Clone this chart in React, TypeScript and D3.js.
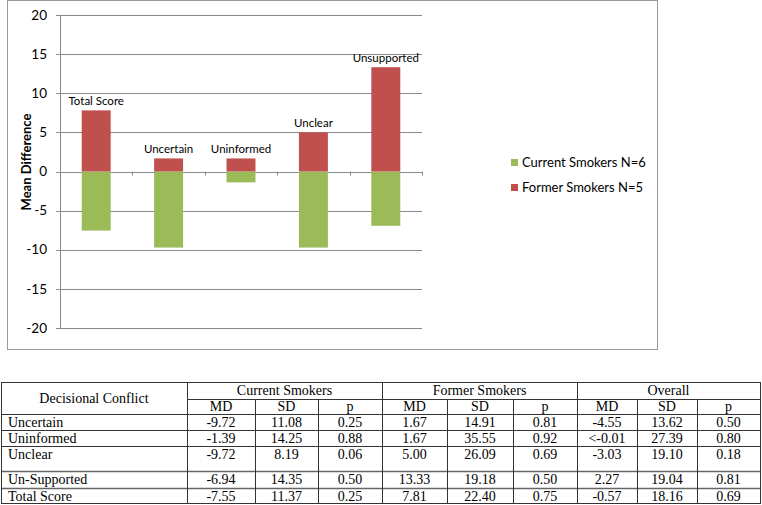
import * as d3 from "d3";
import { useEffect, useRef } from "react";

// chart data
const categories = ["Total Score", "Uncertain", "Uninformed", "Unclear", "Unsupported"];
const currentSmokers = [-7.55, -9.72, -1.39, -9.72, -6.94];
const formerSmokers = [7.81, 1.67, 1.67, 5.0, 13.33];
const seriesNames = ["Current Smokers N=6", "Former Smokers N=5"];
const seriesColors = ["#9bbb59", "#c0504d"];
const yTicks = [-20, -15, -10, -5, 0, 5, 10, 15, 20];

// table data
const rowLabels = ["Uncertain", "Uninformed", "Unclear", "Un-Supported", "Total Score"];
const groupNames = ["Current Smokers", "Former Smokers", "Overall"];
const subHeaders = ["MD", "SD", "p"];
const currentMD = ["-9.72", "-1.39", "-9.72", "-6.94", "-7.55"];
const currentSD = ["11.08", "14.25", "8.19", "14.35", "11.37"];
const currentP = ["0.25", "0.88", "0.06", "0.50", "0.25"];
const formerMD = ["1.67", "1.67", "5.00", "13.33", "7.81"];
const formerSD = ["14.91", "35.55", "26.09", "19.18", "22.40"];
const formerP = ["0.81", "0.92", "0.69", "0.50", "0.75"];
const overallMD = ["-4.55", "<-0.01", "-3.03", "2.27", "-0.57"];
const overallSD = ["13.62", "27.39", "19.10", "19.04", "18.16"];
const overallP = ["0.50", "0.80", "0.18", "0.81", "0.69"];

export default function App() {
  const svgRef = useRef<SVGSVGElement>(null);

  useEffect(() => {
    const svg = d3.select(svgRef.current);
    svg.selectAll("*").remove();

    const sans = "Lato, 'Open Sans', sans-serif";
    const serif = "'Liberation Serif', 'Times New Roman', serif";

    // chart frame
    svg.append("rect")
      .attr("x", 7.5).attr("y", 0.5)
      .attr("width", 650).attr("height", 349)
      .attr("fill", "#fff")
      .attr("stroke", "#9a9a9a");

    const left = 60, right = 422, top = 15, bottom = 328;

    const x = d3.scaleBand<string>()
      .domain(categories)
      .range([left, right])
      .paddingInner(0.6)
      .paddingOuter(0.3);

    const y = d3.scaleLinear().domain([-20, 20]).range([bottom, top]);

    const g = svg.append("g");

    // gridlines
    g.selectAll(".grid")
      .data(yTicks)
      .enter()
      .append("line")
      .attr("x1", left - 4)
      .attr("x2", right)
      .attr("y1", d => Math.round(y(d)) + 0.5)
      .attr("y2", d => Math.round(y(d)) + 0.5)
      .attr("stroke", "#8a8a8a");

    g.selectAll(".ytick")
      .data(yTicks)
      .enter()
      .append("text")
      .attr("x", 47)
      .attr("y", d => y(d))
      .attr("dy", "0.35em")
      .attr("text-anchor", "end")
      .attr("font-family", sans)
      .attr("font-size", 13.5)
      .attr("fill", "#000")
      .text(d => d);

    // y axis line
    g.append("line")
      .attr("x1", left + 0.5).attr("x2", left + 0.5)
      .attr("y1", top).attr("y2", bottom)
      .attr("stroke", "#8a8a8a");

    // category tick marks on the zero line
    const step = x.step();
    const boundaries = d3.range(categories.length + 1).map(i => left + i * step);
    g.selectAll(".xtick")
      .data(boundaries.slice(1))
      .enter()
      .append("line")
      .attr("x1", d => Math.round(d) + 0.5)
      .attr("x2", d => Math.round(d) + 0.5)
      .attr("y1", y(0))
      .attr("y2", y(0) + 4)
      .attr("stroke", "#8a8a8a");

    // bars
    [currentSmokers, formerSmokers].forEach((values, si) => {
      g.selectAll(`.bar-${si}`)
        .data(values)
        .enter()
        .append("rect")
        .attr("x", (d, i) => x(categories[i])!)
        .attr("y", d => y(Math.max(0, d)))
        .attr("width", x.bandwidth())
        .attr("height", d => Math.abs(y(d) - y(0)))
        .attr("fill", seriesColors[si]);
    });

    // category labels over the red bars
    g.selectAll(".clabel")
      .data(categories)
      .enter()
      .append("text")
      .attr("x", d => x(d)! + x.bandwidth() / 2)
      .attr("y", (d, i) => y(formerSmokers[i]) - 5)
      .attr("text-anchor", "middle")
      .attr("font-family", sans)
      .attr("font-size", 11.5)
      .attr("fill", "#000")
      .text(d => d);

    // y title
    g.append("text")
      .attr("transform", "translate(31,162) rotate(-90)")
      .attr("text-anchor", "middle")
      .attr("font-family", sans)
      .attr("font-weight", "bold")
      .attr("font-size", 13)
      .attr("fill", "#000")
      .text("Mean Difference");

    // legend
    const legend = svg.append("g").attr("transform", "translate(511,159)");
    seriesNames.forEach((name, i) => {
      legend.append("rect")
        .attr("x", 0).attr("y", i * 25)
        .attr("width", 7).attr("height", 7)
        .attr("fill", seriesColors[i]);
      legend.append("text")
        .attr("x", 11).attr("y", i * 25 + 3.5)
        .attr("dy", "0.35em")
        .attr("font-family", sans)
        .attr("font-size", 13)
        .attr("fill", "#000")
        .text(name);
    });

    // ---- table ----
    const t = svg.append("g");
    const colX = [1, 187, 255, 318, 382, 447, 513, 577, 637, 697, 760];
    const rowY = [382, 399, 414, 430, 446, 471, 488, 503];
    const columns = [currentMD, currentSD, currentP, formerMD, formerSD, formerP, overallMD, overallSD, overallP];
    const stroke = "#333";

    const hline = (x1: number, x2: number, yy: number, c = stroke, w = 1) =>
      t.append("line").attr("x1", x1).attr("x2", x2)
        .attr("y1", yy + 0.5).attr("y2", yy + 0.5)
        .attr("stroke", c).attr("stroke-width", w);
    const vline = (xx: number, y1: number, y2: number) =>
      t.append("line").attr("x1", xx + 0.5).attr("x2", xx + 0.5)
        .attr("y1", y1).attr("y2", y2)
        .attr("stroke", stroke);

    hline(colX[0], colX[10], rowY[0]);
    hline(colX[1], colX[10], rowY[1]);
    rowY.slice(2).forEach((yy, i) => {
      const gray = i === 3 || i === 4;
      hline(colX[0], colX[10], yy, gray ? "#666" : stroke, gray ? 1.5 : 1);
    });

    // vertical lines
    [0, 1, 4, 7, 10].forEach(ci => vline(colX[ci], rowY[0], rowY[7] + 1));
    [2, 3, 5, 6, 8, 9].forEach(ci => vline(colX[ci], rowY[1], rowY[7] + 1));

    const cellText = (tx: number, ty: number, s: string, anchor = "middle") =>
      t.append("text")
        .attr("x", tx).attr("y", ty)
        .attr("text-anchor", anchor)
        .attr("font-family", serif)
        .attr("font-size", 14)
        .attr("fill", "#000")
        .text(s);

    cellText((colX[0] + colX[1]) / 2, 403, "Decisional Conflict");
    groupNames.forEach((name, i) => {
      cellText((colX[1 + i * 3] + colX[4 + i * 3]) / 2, 395, name);
    });
    d3.range(9).forEach(ci => {
      cellText((colX[1 + ci] + colX[2 + ci]) / 2, 411, subHeaders[ci % 3]);
    });

    rowLabels.forEach((label, ri) => {
      const base = rowY[ri + 2] + 13;
      cellText(8, base, label, "start");
      columns.forEach((col, ci) => {
        cellText((colX[1 + ci] + colX[2 + ci]) / 2, base, col[ri]);
      });
    });
  }, []);

  return (
    <svg
      ref={svgRef}
      width={762}
      height={505}
      style={{ position: "absolute", left: 0, top: 0, background: "#fff" }}
    />
  );
}
